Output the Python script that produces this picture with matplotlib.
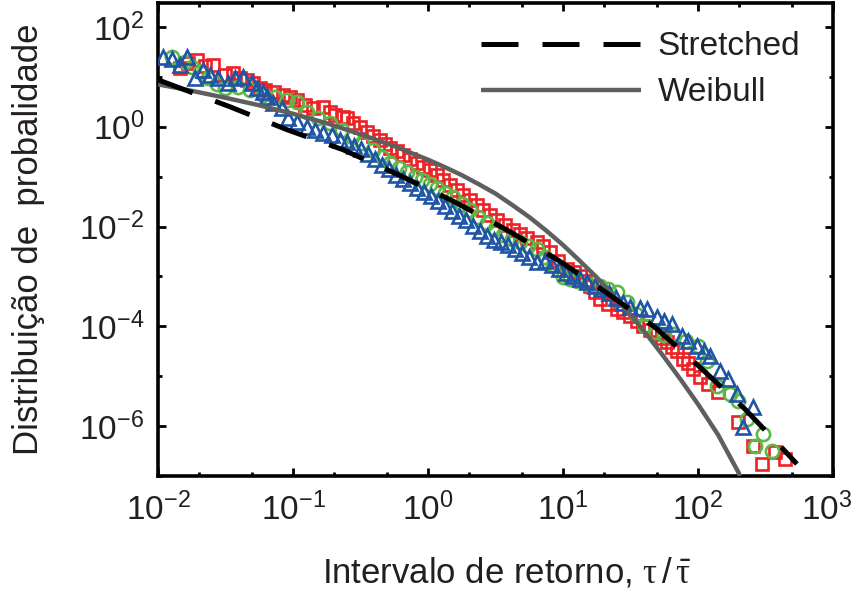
import numpy as np
import matplotlib
matplotlib.use("Agg")
import matplotlib.pyplot as plt
import matplotlib.transforms as mtransforms
from matplotlib import font_manager
from matplotlib.ticker import FixedLocator, FuncFormatter, NullFormatter

# ---------------- data (log10 values) ----------------
red_log_x = [-1.837, -1.778, -1.711, -1.652, -1.593, -1.504, -1.444, -1.393, -1.341, -1.296,
             -1.244, -1.207, -1.141, -1.074, -1.022, -0.970, -0.911, -0.852, -0.778, -0.726,
             -0.689, -0.630, -0.600, -0.556, -0.504, -0.452, -0.407, -0.356, -0.319, -0.281,
             -0.230, -0.185, -0.133, -0.081, -0.037, 0.015, 0.067, 0.111, 0.163, 0.215,
             0.259, 0.311, 0.363, 0.407, 0.459, 0.511, 0.570, 0.630, 0.681, 0.733,
             0.807, 0.852, 0.904, 0.963, 1.030, 1.081, 1.126, 1.163, 1.200, 1.237,
             1.274, 1.333, 1.400, 1.444, 1.496, 1.548, 1.593, 1.644, 1.696, 1.733,
             1.770, 1.807, 1.844, 1.889, 1.926, 1.963, 2.015, 2.074, 2.148, 2.296,
             2.407, 2.474, 2.570, 2.644]
red_log_y = [1.18, 1.28, 1.34, 1.22, 1.24, 1.04, 1.08, 0.98, 0.94, 0.88,
             0.78, 0.74, 0.70, 0.64, 0.60, 0.54, 0.44, 0.38, 0.40, 0.30,
             0.24, 0.20, 0.18, 0.08, 0.00, -0.10, -0.18, -0.26, -0.34, -0.42,
             -0.48, -0.56, -0.64, -0.72, -0.80, -0.86, -0.96, -1.06, -1.16, -1.26,
             -1.36, -1.46, -1.56, -1.66, -1.76, -1.86, -1.96, -2.06, -2.14, -2.22,
             -2.32, -2.40, -2.52, -2.70, -2.86, -2.92, -3.00, -3.10, -3.20, -3.32,
             -3.46, -3.56, -3.66, -3.72, -3.80, -3.90, -4.00, -4.08, -4.16, -4.24,
             -4.32, -4.42, -4.50, -4.66, -4.74, -4.86, -5.02, -5.16, -5.32, -5.92,
             -6.40, -6.76, -6.52, -6.66]

green_log_x = [-1.896, -1.800, -1.748, -1.689, -1.630, -1.563, -1.504, -1.407, -1.319, -1.222,
               -1.133, -1.044, -0.970, -0.896, -0.815, -0.726, -0.637, -0.563, -0.489, -0.407,
               -0.341, -0.281, -0.215, -0.156, -0.096, -0.044, 0.015, 0.067, 0.126, 0.185,
               0.252, 0.311, 0.370, 0.437, 0.496, 0.556, 0.622, 0.681, 0.741, 0.807,
               0.867, 0.926, 1.000, 1.052, 1.104, 1.185, 1.274, 1.333, 1.400, 1.474,
               1.541, 1.607, 1.681, 1.748, 1.815, 1.911, 2.000, 2.067, 2.141, 2.237,
               2.296, 2.363, 2.422, 2.481, 2.548]
green_log_y = [1.40, 1.30, 1.20, 1.10, 0.98, 0.86, 0.78, 0.80, 0.74, 0.64,
               0.60, 0.54, 0.50, 0.30, 0.18, 0.08, -0.06, -0.20, -0.32, -0.46,
               -0.60, -0.72, -0.82, -0.90, -1.00, -1.06, -1.14, -1.22, -1.32, -1.40,
               -1.54, -1.66, -1.80, -1.92, -2.04, -2.16, -2.24, -2.32, -2.40, -2.46,
               -2.62, -2.78, -3.02, -3.06, -3.10, -3.16, -3.20, -3.26, -3.32, -3.52,
               -3.76, -4.00, -4.12, -4.18, -4.16, -4.30, -4.40, -4.70, -5.20, -5.36,
               -5.50, -5.86, -6.40, -6.16, -6.50]

blue_log_x = [-1.963, -1.896, -1.837, -1.785, -1.726, -1.667, -1.615, -1.556, -1.481, -1.430,
              -1.370, -1.304, -1.267, -1.222, -1.193, -1.148, -1.081, -1.037, -0.970, -0.896,
              -0.837, -0.778, -0.711, -0.652, -0.600, -0.548, -0.496, -0.444, -0.393, -0.341,
              -0.289, -0.237, -0.185, -0.133, -0.081, -0.030, 0.022, 0.074, 0.126, 0.178,
              0.230, 0.281, 0.333, 0.385, 0.437, 0.489, 0.541, 0.593, 0.644, 0.696,
              0.748, 0.807, 0.867, 0.919, 0.970, 1.022, 1.074, 1.126, 1.178, 1.237,
              1.289, 1.341, 1.393, 1.444, 1.496, 1.570, 1.622, 1.696, 1.748, 1.807,
              1.881, 1.926, 1.993, 2.044, 2.089, 2.163, 2.222, 2.289, 2.333, 2.407]
blue_log_y = [1.40, 1.36, 1.24, 1.40, 0.98, 1.14, 1.04, 0.98, 0.88, 0.98,
              1.00, 0.88, 0.78, 0.70, 0.60, 0.48, 0.38, 0.18, 0.10, 0.00,
              -0.06, -0.12, -0.16, -0.26, -0.30, -0.38, -0.44, -0.54, -0.64, -0.76,
              -0.84, -0.96, -1.04, -1.12, -1.22, -1.30, -1.38, -1.48, -1.58, -1.68,
              -1.78, -1.86, -1.98, -2.08, -2.18, -2.26, -2.32, -2.38, -2.46, -2.54,
              -2.62, -2.72, -2.70, -2.78, -2.86, -2.94, -3.00, -3.06, -3.12, -3.20,
              -3.26, -3.34, -3.44, -3.54, -3.62, -3.64, -3.66, -3.82, -3.90, -3.96,
              -4.20, -4.30, -4.40, -4.50, -4.60, -4.90, -5.06, -5.36, -6.02, -5.62]

stretched_log_x = [-2.0, -1.763, -1.467, -1.044, -0.63, -0.222, 0.178, 0.578, 0.956,
                   1.319, 1.681, 2.015, 2.348, 2.644, 2.733]
stretched_log_y = [0.94, 0.70, 0.40, -0.06, -0.46, -0.96, -1.48, -2.06, -2.66,
                   -3.32, -4.02, -4.82, -5.66, -6.50, -6.76]

weibull_log_x = [-2.0, -1.75, -1.5, -1.25, -1.0, -0.75, -0.5, -0.25, 0.0, 0.125,
                 0.25, 0.375, 0.5, 0.625, 0.75, 0.875, 1.0, 1.125, 1.25, 1.375,
                 1.5, 1.625, 1.75, 1.875, 2.0, 2.15, 2.3, 2.31]
weibull_log_y = [0.85, 0.72, 0.58, 0.43, 0.26, 0.07, -0.15, -0.39, -0.66, -0.81,
                 -0.97, -1.15, -1.34, -1.57, -1.81, -2.08, -2.37, -2.69, -3.02, -3.39,
                 -3.77, -4.18, -4.62, -5.08, -5.56, -6.18, -6.93, -7.0]

legend_labels = ["Stretched", "Weibull"]
x_label = "Intervalo de retorno, "
y_label = "Distribuição de  probalidade"
x_major_exp = [-2, -1, 0, 1, 2, 3]
y_major_exp = [-6, -4, -2, 0, 2]

# ---------------- fonts ----------------
available = {f.name for f in font_manager.fontManager.ttflist}
narrow = "Liberation Sans Narrow" if "Liberation Sans Narrow" in available else "Liberation Sans"
plt.rcParams["font.family"] = [narrow, "DejaVu Sans"]
plt.rcParams["mathtext.fontset"] = "custom"
plt.rcParams["mathtext.rm"] = narrow
plt.rcParams["mathtext.it"] = "Liberation Serif"
plt.rcParams["mathtext.default"] = "rm"

text_color = "#231f20"

fig = plt.figure(figsize=(8.56, 5.94), dpi=100)
ax = fig.add_axes([158 / 856, 1 - 476 / 594, (833 - 158) / 856, (476 - 3) / 594])

def pw(a):
    return np.power(10.0, np.asarray(a, dtype=float))

red_c, green_c, blue_c = "#ec2227", "#5cb947", "#1f55a6"

ax.plot(pw(red_log_x), pw(red_log_y), linestyle="none", marker="s", ms=9,
        mfc="none", mec=red_c, mew=1.9, zorder=2)
ax.plot(pw(green_log_x), pw(green_log_y), linestyle="none", marker="o", ms=9.5,
        mfc="none", mec=green_c, mew=1.9, zorder=3)
ax.plot(pw(blue_log_x), pw(blue_log_y), linestyle="none", marker="^", ms=10,
        mfc="none", mec=blue_c, mew=1.9, zorder=4)

h_w, = ax.plot(pw(weibull_log_x), pw(weibull_log_y), color="#5f5f5f", lw=3.2,
               solid_capstyle="butt", zorder=5)
h_s, = ax.plot(pw(stretched_log_x), pw(stretched_log_y), color="black", lw=3.6,
               linestyle=(0, (7.4, 4.8)), dash_capstyle="butt", zorder=6)

ax.set_xscale("log")
ax.set_yscale("log")
ax.set_xlim(1e-2, 1e3)
ax.set_ylim(1e-7, 10 ** 2.48)

ax.xaxis.set_major_locator(FixedLocator([10.0 ** e for e in x_major_exp]))
ax.xaxis.set_minor_locator(FixedLocator([m * 10.0 ** e for e in x_major_exp[:-1] for m in (2, 5)]))
ax.yaxis.set_major_locator(FixedLocator([10.0 ** e for e in y_major_exp]))
ax.yaxis.set_minor_locator(FixedLocator([10.0 ** e for e in (-7, -5, -3, -1, 1)]))
fmt = FuncFormatter(lambda v, p: r"$10^{%d}$" % int(round(np.log10(v))))
ax.xaxis.set_major_formatter(fmt)
ax.yaxis.set_major_formatter(fmt)
ax.xaxis.set_minor_formatter(NullFormatter())
ax.yaxis.set_minor_formatter(NullFormatter())

ax.tick_params(which="both", direction="in", top=True, right=True, width=2.0,
               color="black", labelsize=24, labelcolor=text_color)
ax.tick_params(which="major", length=6, pad=10)
ax.tick_params(which="minor", length=3)
ax.tick_params(axis="x", which="major", pad=12)
for s in ax.spines.values():
    s.set_linewidth(2.6)
    s.set_color("black")

# nudge the last x tick label slightly left so it stays inside the figure
fig.canvas.draw()
last_lbl = ax.get_xticklabels()[-1]
last_lbl.set_transform(last_lbl.get_transform() +
                       mtransforms.ScaledTranslation(-6 / 100, 0, fig.dpi_scale_trans))

ax.set_xlabel(x_label + r"$\mathit{\tau}\,/\,\bar{\mathit{\tau}}$", fontsize=25, color=text_color)
ax.xaxis.set_label_coords(0.517, -0.168)
ax.set_ylabel(y_label, fontsize=25, color=text_color)
ax.yaxis.set_label_coords(-0.168, 0.5)

leg = ax.legend([h_s, h_w], legend_labels, loc="upper left", bbox_to_anchor=(0.4785, 0.94),
                frameon=False, handlelength=4.8, handletextpad=0.5, labelspacing=0.45,
                borderpad=0, borderaxespad=0,
                prop={"family": "Liberation Sans", "size": 24})
for t in leg.get_texts():
    t.set_color(text_color)

fig.savefig("out.png", dpi=100)
